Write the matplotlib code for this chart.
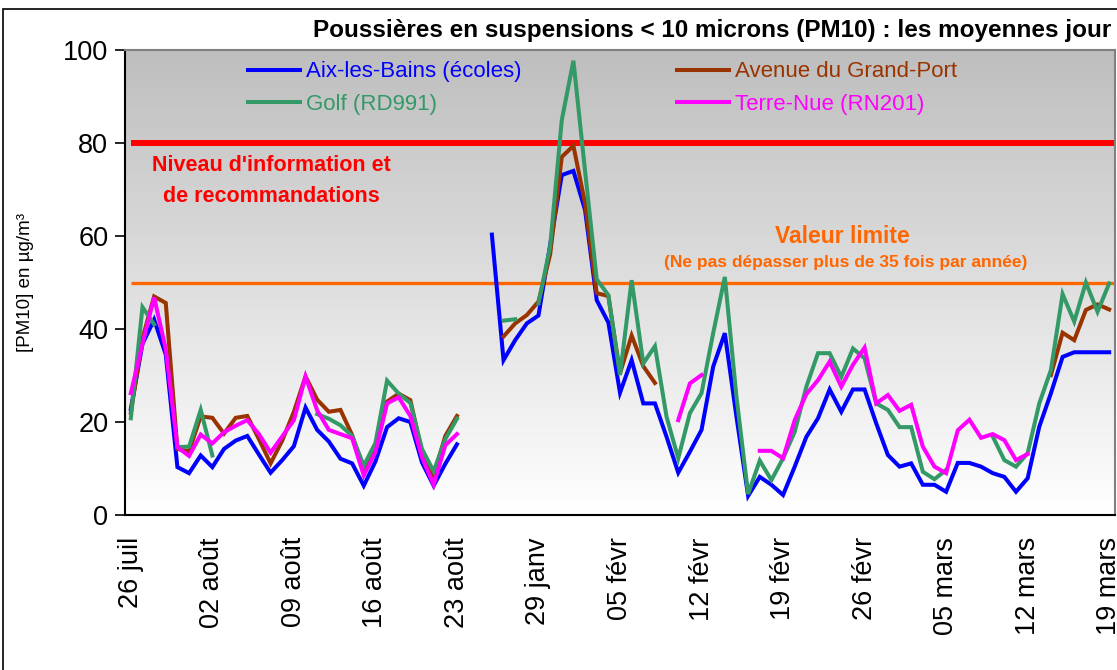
import numpy as np
import matplotlib
matplotlib.use("Agg")
import matplotlib.pyplot as plt
from matplotlib.patches import Rectangle

plt.rcParams['font.family'] = ['Liberation Sans', 'DejaVu Sans']

N = None

# one slot per day: 26 juil -> 23 août, two empty slots, then 24 janv -> 19 mars
tick_labels = ["26 juil", "02 août", "09 août", "16 août", "23 août", "29 janv",
               "05 févr", "12 févr", "19 févr", "26 févr", "05 mars", "12 mars", "19 mars"]

aix = [22.8, 36.8, 42.0, 34.5, 10.3, 9.0, 12.8, 10.3, 14.2, 16.0,
       17.0, 13.0, 9.1, 11.8, 14.8, 23.1, 18.3, 15.8, 12.1, 11.1,
       6.3, 11.5, 18.9, 20.8, 20.0, 11.3, 6.3, 11.0, 15.2, N,
       N, 60.3, 33.3, 37.6, 41.2, 42.9, 58.0, 73.1, 74.0, 65.6,
       46.2, 41.4, 26.3, 33.3, 24.0, 24.0, 16.8, 9.1, 13.6, 18.3,
       31.9, 39.1, 21.1, 4.1, 8.2, 6.5, 4.3, 10.4, 16.8, 20.8,
       27.0, 22.2, 27.0, 27.0, 19.7, 12.9, 10.4, 11.1, 6.5, 6.5,
       5.0, 11.2, 11.2, 10.4, 9.0, 8.2, 5.0, 7.9, 19.0, 26.2,
       34.0, 35.0, 35.0, 35.0, 35.0]

avenue = [22.0, 38.0, 47.0, 45.6, 14.2, 13.7, 21.2, 20.9, 17.5, 20.9,
          21.3, 16.3, 11.1, 16.0, 22.2, 29.8, 24.8, 22.2, 22.6, 17.2,
          9.8, 14.4, 24.4, 26.1, 24.7, 13.5, 8.5, 17.0, 21.3, N,
          N, N, 38.4, 41.2, 43.0, 45.9, 56.0, 77.0, 79.4, 67.0,
          47.7, 47.1, 30.5, 38.6, 32.0, 28.4, N, N, N, N,
          N, N, N, N, N, N, N, N, N, N,
          N, N, N, N, N, N, N, N, N, N,
          N, N, N, N, N, N, N, N, N, 30.1,
          39.2, 37.6, 44.1, 45.3, 44.2]

golf = [20.8, 44.7, 41.0, N, 14.6, 14.7, 22.6, 12.8, N, N,
        N, N, N, N, N, N, 21.7, 20.7, 19.3, 17.0,
        10.6, 15.5, 28.9, 26.1, 24.1, 14.2, 9.4, 16.3, 20.7, N,
        N, N, 41.8, 42.1, N, 45.5, 57.7, 84.9, 97.7, 74.0,
        50.7, 47.3, 30.1, 50.5, 32.6, 36.3, 21.1, 12.2, 21.9, 26.2,
        39.1, 51.2, 25.4, 4.5, 11.7, 7.5, 12.2, 17.9, 27.6, 34.8,
        34.8, 29.7, 35.8, 33.7, 24.0, 22.6, 18.9, 18.9, 9.3, 7.7,
        9.7, N, N, N, 16.9, 11.8, 10.4, 13.3, 24.0, 31.2,
        47.5, 41.6, 50.0, 43.7, 49.8]

terre_nue = [26.2, 36.8, 46.8, 35.7, 14.6, 12.7, 17.3, 15.4, 17.8, 19.2,
             20.4, 17.4, 13.4, 16.9, 20.4, 29.8, 22.5, 18.3, 17.4, 16.5,
             8.5, 13.5, 24.0, 25.3, 21.3, 12.4, 6.5, 15.0, 17.4, N,
             N, N, N, N, N, N, N, N, N, N,
             N, N, N, N, N, N, N, 20.4, 28.3, 30.1,
             N, N, N, N, 13.8, 13.8, 12.2, 20.4, 26.0, 29.0,
             33.0, 27.6, 32.3, 36.0, 24.0, 25.8, 22.4, 23.7, 14.7, 10.4,
             9.0, 18.2, 20.5, 16.6, 17.4, 16.1, 11.8, 13.1, N, N,
             N, N, N, N, N]

seuil_info = 80
valeur_limite = 50


def arr(v):
    return np.array([np.nan if x is None else x for x in v], dtype=float)


x = np.arange(len(aix))

fig = plt.figure(figsize=(11.17, 6.7), dpi=100)
ax = fig.add_axes([125 / 1117, 1 - 515 / 670, 990 / 1117, 465 / 670])

# grey to white gradient of the plot area
grad = np.linspace(0, 1, 256).reshape(-1, 1)
ax.imshow(grad, cmap=matplotlib.colors.LinearSegmentedColormap.from_list("g", ["#ffffff", "#bebebe"]),
          aspect="auto", extent=(0, 1, 0, 1), transform=ax.transAxes, origin="lower", zorder=0)

ax.hlines(seuil_info, 0, len(aix) - 0.5, color="#ff0000", lw=4.3, zorder=2)
ax.hlines(valeur_limite, 0, len(aix) - 0.5, color="#ff6600", lw=2.4, zorder=2)

series = [("Aix-les-Bains (écoles)", aix, "#0000ff"),
          ("Avenue du Grand-Port", avenue, "#993300"),
          ("Golf (RD991)", golf, "#339966"),
          ("Terre-Nue (RN201)", terre_nue, "#ff00ff")]
lines = {}
for name, vals, col in series:
    lines[name], = ax.plot(x, arr(vals), color=col, lw=2.9, zorder=3, label=name,
                           solid_joinstyle="miter")

ax.set_xlim(-0.5, len(aix) - 0.5)
ax.set_ylim(0, 100)
ax.set_yticks(range(0, 101, 20))
ax.set_xticks(x[::7])
ax.set_xticklabels(tick_labels, rotation=90, fontsize=19.5)
ax.tick_params(axis="x", length=0, pad=16)
ax.tick_params(axis="y", labelsize=19.5, length=7, width=1.2, direction="out", pad=5)
ax.set_ylabel("[PM10] en µg/m³", fontsize=13.5, labelpad=21)

for s in ["top", "right"]:
    ax.spines[s].set_color("#808080")
    ax.spines[s].set_linewidth(1.5)
for s in ["left", "bottom"]:
    ax.spines[s].set_color("#000000")
    ax.spines[s].set_linewidth(1.5)

# legend in two columns
leg_kw = dict(frameon=False, fontsize=16, handlelength=2.35, handletextpad=0.25,
              labelspacing=0.5, borderpad=0, borderaxespad=0, loc="center left")
leg1 = ax.legend([lines["Aix-les-Bains (écoles)"], lines["Golf (RD991)"]],
                 ["Aix-les-Bains (écoles)", "Golf (RD991)"],
                 bbox_to_anchor=(248 / 1117, 1 - 88 / 670), bbox_transform=fig.transFigure, **leg_kw)
for t, l in zip(leg1.get_texts(), leg1.get_lines()):
    t.set_color(l.get_color())
ax.add_artist(leg1)
leg2 = ax.legend([lines["Avenue du Grand-Port"], lines["Terre-Nue (RN201)"]],
                 ["Avenue du Grand-Port", "Terre-Nue (RN201)"],
                 bbox_to_anchor=(677 / 1117, 1 - 88 / 670), bbox_transform=fig.transFigure, **leg_kw)
for t, l in zip(leg2.get_texts(), leg2.get_lines()):
    t.set_color(l.get_color())

ax.text(12.1, 71.8, "Niveau d'information et\nde recommandations", color="#ff0000",
        fontsize=15.5, fontweight="bold", ha="center", va="center", linespacing=1.6, zorder=4)
ax.text(61.1, 59.8, "Valeur limite", color="#ff6600", fontsize=16.5, fontweight="bold",
        ha="center", va="center", zorder=4)
ax.text(61.4, 54.2, "(Ne pas dépasser plus de 35 fois par année)", color="#ff6600",
        fontsize=12.5, fontweight="bold", ha="center", va="center", zorder=4)

fig.text(313 / 1117, 1 - 31 / 670, "Poussières en suspensions < 10 microns (PM10) : les moyennes jour",
         fontsize=17.5, fontweight="bold", ha="left", va="center")

fig.patches.append(Rectangle((3 / 1117, -0.1), 1.2, 1.1 - 9 / 670, transform=fig.transFigure,
                             fill=False, edgecolor="black", lw=1.2))

fig.savefig("out.png", dpi=100)
